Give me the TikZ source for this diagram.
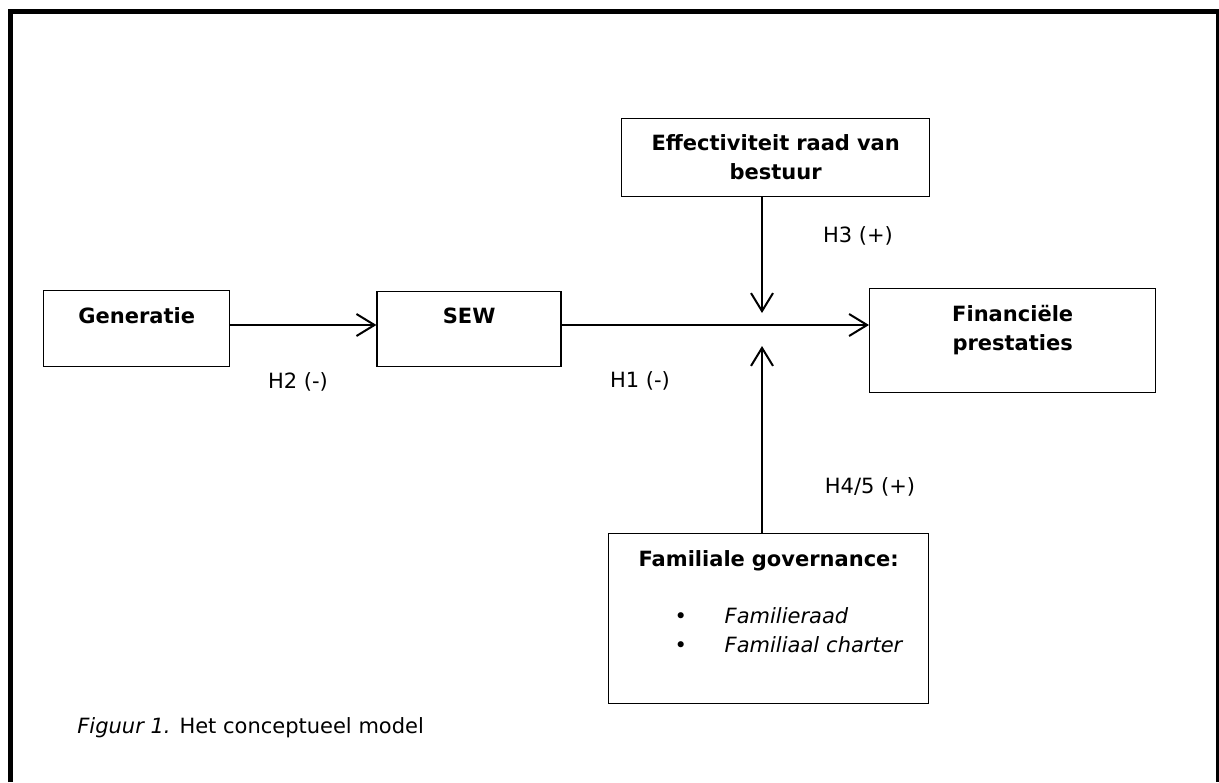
\documentclass[tikz,border=0pt]{standalone}
\usepackage{fontspec}
\setmainfont{DejaVu Sans}
\usetikzlibrary{positioning,arrows.meta}
\newcommand{\modelfont}{\fontsize{10.5}{14.5}\selectfont}
\tikzstyle{block} = [rectangle, draw, line width=0.7pt, inner sep=0pt, align=center, font=\modelfont]
\tikzstyle{hyp} = [anchor=base, inner sep=0pt, font=\modelfont]
\tikzstyle{link} = [->, line width=1pt]

\begin{document}
\begin{tikzpicture}[x=0.5pt, y=-0.5pt, >={Straight Barb[length=9pt,width=11pt]}]
        \useasboundingbox (0,0) rectangle (1219,782);
        % page frame
        \draw [line width=2.5pt] (10.5,782) |- (1218.5,11.5) -- (1218.5,782);

        \node [block, anchor=north west, text width=93pt, text height=16.5pt, text depth=21.5pt] (generatie) at (43,290) {\textbf{Generatie}};
        \node [block, right = 73pt of generatie, text width=92pt, text height=16pt, text depth=21.5pt] (sew) {\textbf{SEW}};
        \node [block, anchor=north west, text width=143pt, text height=16.5pt, text depth=35.5pt] (financieel) at (869,288) {\textbf{Financiële}\\ \textbf{prestaties}};
        \node [block, anchor=north west, text width=154pt, text height=16pt, text depth=23pt] (raad) at (621,118) {\textbf{Effectiviteit raad van}\\ \textbf{bestuur}};
        \node [block, anchor=north west, text width=160pt, text height=16.5pt, text depth=68.5pt] (familie) at (608,533) {\textbf{Familiale governance:}\\[14pt]
                \makebox[160pt][l]{\hspace*{33pt}\makebox[25pt][l]{\textbullet}\textit{Familieraad}}\\
                \makebox[160pt][l]{\hspace*{33pt}\makebox[25pt][l]{\textbullet}\textit{Familiaal charter}}};

        \coordinate (mid) at (762,325);
        \coordinate (downtip) at (762,313);
        \coordinate (uptip) at (762,346);

        \draw [link] (generatie.east |- mid) -- (mid -| sew.west);
        \draw [link] (sew.east |- mid) -- (mid -| financieel.west);
        \draw [link] (raad.south -| mid) -- (downtip);
        \draw [link] (familie.north -| mid) -- (uptip);

        \node [hyp] (h2) at (298,388) {H2 (-)};
        \node [hyp] (h1) at (640,387) {H1 (-)};
        \node [hyp] (h3) at (858,242) {H3 (+)};
        \node [hyp] (h45) at (870,493) {H4/5 (+)};

        \node [anchor=base west, inner sep=0pt, font=\modelfont] (caption) at (77,733) {\textit{Figuur 1.} Het conceptueel model};
\end{tikzpicture}
\end{document}
